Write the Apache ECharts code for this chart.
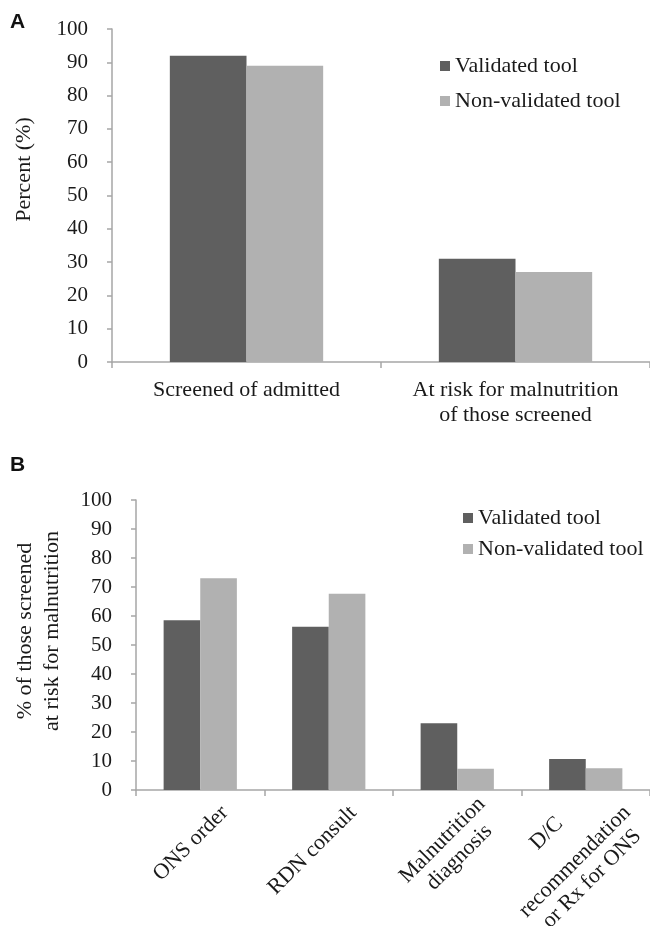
<!DOCTYPE html>
<html><head><meta charset="utf-8">
<script src="https://cdn.jsdelivr.net/npm/echarts@6/dist/echarts.min.js"></script>
<style>html,body{margin:0;padding:0;background:#fff}#c{width:650px;height:926px}</style>
</head><body><div id="c"></div>
<script>
const seriesNames = ['Validated tool', 'Non-validated tool'];
const catsA = ['Screened of admitted', 'At risk for malnutrition\nof those screened'];
const validatedA = [92, 31];
const nonValidatedA = [89, 27];
const catsB = ['ONS order', 'RDN consult', 'Malnutrition\ndiagnosis', 'D/C\n\nrecommendation\nor Rx for ONS'];
const validatedB = [58.5, 56.3, 23, 10.7];
const nonValidatedB = [73, 67.7, 7.3, 7.5];
const yTitleA = 'Percent (%)';
const yTitleB = '% of those screened\nat risk for malnutrition';

const dark = '#5f5f5f', light = '#b1b1b1', axisCol = '#a6a6a6';
const font = 'Liberation Serif';
const txt = {fontFamily: font, fontSize: 21, color: '#1a1a1a'};

function yAx(gi, name, gap, pad) {
  return {
    type: 'value', gridIndex: gi, min: 0, max: 100, interval: 10,
    axisLine: {show: true, lineStyle: {color: axisCol, width: 1.5}},
    axisTick: {show: true, length: 5, lineStyle: {color: axisCol, width: 1.5}},
    splitLine: {show: false},
    axisLabel: Object.assign({margin: 24}, txt),
    name: name, nameLocation: 'middle', nameGap: gap, nameRotate: 90,
    nameTextStyle: Object.assign({lineHeight: 27, padding: pad}, txt, {fontSize: 22})
  };
}
function xAx(gi, cats, showLabel) {
  return {
    type: 'category', gridIndex: gi, data: cats,
    axisLine: {show: true, lineStyle: {color: axisCol, width: 1.5}},
    axisTick: {show: true, length: 6, lineStyle: {color: axisCol, width: 1.5}},
    axisLabel: Object.assign({show: showLabel, interval: 0, margin: 16, lineHeight: 25}, txt, {fontSize: 22})
  };
}
const chart = echarts.init(document.getElementById('c'), null, {renderer: 'canvas'});
const baseGraphic = [
  {type: 'text', left: 10, top: 12, style: {text: 'A', font: 'bold 21px "Liberation Sans"', fill: '#111'}},
  {type: 'text', left: 10, top: 455, style: {text: 'B', font: 'bold 21px "Liberation Sans"', fill: '#111'}}
];
chart.setOption({
  animation: false,
  graphic: baseGraphic,
  grid: [
    {left: 112, top: 29, right: 0, bottom: 564},
    {left: 136, top: 500, right: 0, bottom: 136}
  ],
  legend: [
    {data: seriesNames.map(n => ({name: n})), orient: 'vertical', left: 435, top: 50, itemWidth: 10, itemHeight: 10,
     itemGap: 13, icon: 'rect', textStyle: Object.assign({}, txt, {fontSize: 22}), selectedMode: false},
    {data: seriesNames.map(n => ({name: n})), orient: 'vertical', left: 458, top: 502, itemWidth: 10, itemHeight: 10,
     itemGap: 9, icon: 'rect', textStyle: Object.assign({}, txt, {fontSize: 22}), selectedMode: false}
  ],
  xAxis: [xAx(0, catsA, true), xAx(1, catsB, false)],
  yAxis: [yAx(0, yTitleA, 74, [0, 0, 0, 52]), yAx(1, yTitleB, 70, [0, 0, 0, 28])],
  series: [
    {name: seriesNames[0], type: 'bar', xAxisIndex: 0, yAxisIndex: 0, data: validatedA, itemStyle: {color: dark}, barCategoryGap: '43%', barGap: '0%'},
    {name: seriesNames[1], type: 'bar', xAxisIndex: 0, yAxisIndex: 0, data: nonValidatedA, itemStyle: {color: light}, barCategoryGap: '43%', barGap: '0%'},
    {name: seriesNames[0], type: 'bar', xAxisIndex: 1, yAxisIndex: 1, data: validatedB, itemStyle: {color: dark}, barCategoryGap: '43%', barGap: '0%'},
    {name: seriesNames[1], type: 'bar', xAxisIndex: 1, yAxisIndex: 1, data: nonValidatedB, itemStyle: {color: light}, barCategoryGap: '43%', barGap: '0%'}
  ]
});

// Rotated, centre-aligned multi-line category labels for panel B, placed from the axis scale
const fontStr = '22px "Liberation Serif"';
const ctx = document.createElement('canvas').getContext('2d');
ctx.font = fontStr;
const lineStep = 24, blankStep = 16;
const labelGraphics = catsB.map(function (cat) {
  const lines = cat.split('\n');
  const filled = lines.filter(l => l.length);
  const W = Math.max.apply(null, filled.map(l => ctx.measureText(l).width));
  const p = chart.convertToPixel({xAxisIndex: 1, yAxisIndex: 1}, [cat, 0]);
  const ys = new Array(lines.length);
  let y = (filled.length - 0.5) * lineStep;
  for (let i = lines.length - 1; i >= 0; i--) {
    ys[i] = y;
    y -= lines[i].length ? lineStep : blankStep;
  }
  return {
    type: 'group', x: p[0] + 16, y: p[1] + 11 - (filled.length - 1) * 8.5, rotation: Math.PI / 4,
    children: lines.map(function (l, i) {
      return l.length ? {type: 'text', x: -W / 2, y: ys[i],
        style: {text: l, font: fontStr, fill: '#1a1a1a', align: 'center', verticalAlign: 'middle'}} : null;
    }).filter(Boolean)
  };
});
chart.setOption({graphic: baseGraphic.concat(labelGraphics)});
</script></body></html>
